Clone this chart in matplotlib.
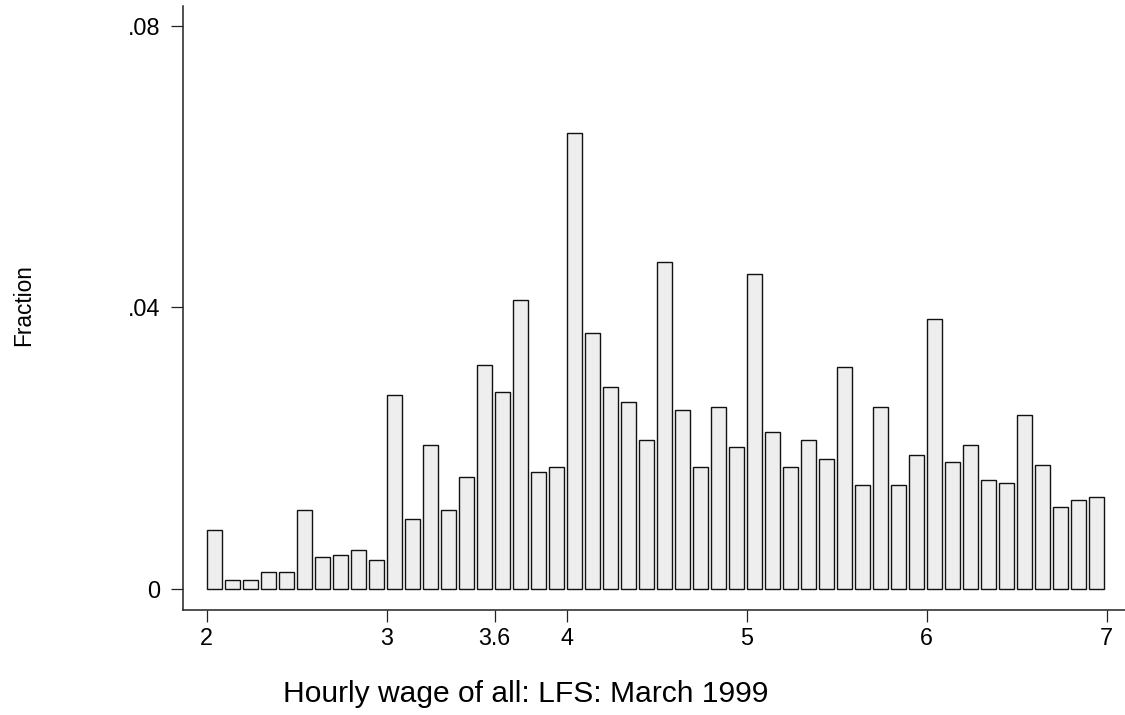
import numpy as np
import matplotlib
matplotlib.use("Agg")
import matplotlib.pyplot as plt

plt.rcParams['font.family'] = ['Liberation Sans', 'DejaVu Sans']

# Histogram bins (hourly wage, bin width 0.1 starting at 2.0)
bin_left = [round(2.0 + 0.1 * k, 1) for k in range(50)]
fraction = [
    0.0084, 0.0013, 0.0013, 0.0024, 0.0024, 0.0112, 0.0045, 0.0049, 0.0056, 0.0041,
    0.0276, 0.0099, 0.0205, 0.0112, 0.0159, 0.0318, 0.0280, 0.0411, 0.0166, 0.0173,
    0.0648, 0.0364, 0.0287, 0.0265, 0.0212, 0.0464, 0.0254, 0.0173, 0.0258, 0.0202,
    0.0447, 0.0223, 0.0173, 0.0212, 0.0184, 0.0315, 0.0148, 0.0258, 0.0148, 0.0191,
    0.0383, 0.0180, 0.0205, 0.0155, 0.0151, 0.0247, 0.0176, 0.0116, 0.0127, 0.0131,
]
x_ticks = [2, 3, 3.6, 4, 5, 6, 7]
x_ticklabels = ["2", "3", "3.6", "4", "5", "6", "7"]
y_ticks = [0, 0.04, 0.08]
y_ticklabels = ["0", ".04", ".08"]

W, H = 1125, 715
fig = plt.figure(figsize=(W / 100, H / 100), dpi=100)
ax = fig.add_axes([183 / W, 105 / H, (W - 183) / W, (610 - 6) / H])

ax.bar(bin_left, fraction, width=0.087, align='edge',
       facecolor='#eeeeee', edgecolor='#111111', linewidth=1.0)

ax.set_xlim(1.8683, 7.1017)
ax.set_ylim(-0.00298, 0.08281)

ax.set_xticks(x_ticks)
ax.set_xticklabels(x_ticklabels)
ax.set_yticks(y_ticks)
ax.set_yticklabels(y_ticklabels)

for s in ['top', 'right']:
    ax.spines[s].set_visible(False)
for s in ['left', 'bottom']:
    ax.spines[s].set_color('#222222')
    ax.spines[s].set_linewidth(1.1)

ax.tick_params(axis='both', direction='out', length=8.5, width=0.9,
               color='#222222', labelsize=16.8, labelcolor='black')
ax.tick_params(axis='x', pad=4)
ax.tick_params(axis='y', pad=8)

fig.text(525.5 / W, 13.3 / H, "Hourly wage of all: LFS: March 1999",
         ha='center', va='baseline', fontsize=21.6)
fig.text(24 / W, (H - 305) / H, "Fraction", rotation=90,
         ha='center', va='center', fontsize=16.3)

fig.savefig("out.png", dpi=100, facecolor='white')
